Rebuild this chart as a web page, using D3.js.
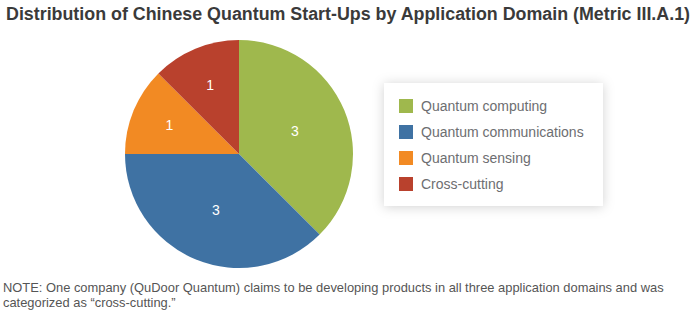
<!DOCTYPE html>
<html>
<head>
<meta charset="utf-8">
<script src="https://cdn.jsdelivr.net/npm/d3@7"></script>
<style>
  body { margin: 0; background: #fff; }
  text { font-family: "Liberation Sans", Arial, sans-serif; }
</style>
</head>
<body>
<div id="chart"></div>
<script>
// Chart data
const categories = ["Quantum computing", "Quantum communications", "Quantum sensing", "Cross-cutting"];
const counts = [3, 3, 1, 1];
const colors = ["#9fb84d", "#3f72a3", "#f28a23", "#b9412d"];
const title = "Distribution of Chinese Quantum Start-Ups by Application Domain (Metric III.A.1)";
const noteLines = [
    "NOTE: One company (QuDoor Quantum) claims to be developing products in all three application domains and was",
    "categorized as \u201ccross-cutting.\u201d"
];

const width = 693, height = 315;
const cx = 239, cy = 154, radius = 114;

let svg = d3.select("#chart").append("svg")
    .attr("width", width)
    .attr("height", height);

// Soft shadow used behind the legend box
let defs = svg.append("defs");
let shadow = defs.append("filter")
    .attr("id", "shadow")
    .attr("x", "-20%").attr("y", "-30%")
    .attr("width", "140%").attr("height", "160%");
shadow.append("feDropShadow")
    .attr("dx", 0).attr("dy", 1)
    .attr("stdDeviation", 6)
    .attr("flood-color", "#000")
    .attr("flood-opacity", 0.18);

// Title
svg.append("text")
    .attr("x", 6)
    .attr("y", 20)
    .attr("textLength", 684)
    .attr("lengthAdjust", "spacingAndGlyphs")
    .style("font-size", "17.5px")
    .style("font-weight", "bold")
    .style("fill", "#3a3a3a")
    .text(title);

// Pie
let pie = d3.pie().sort(null).value(d => d);
let arc = d3.arc().innerRadius(0).outerRadius(radius);
let slices = pie(counts);

let g = svg.append("g").attr("transform", `translate(${cx},${cy})`);
g.selectAll("path")
    .data(slices)
    .enter().append("path")
    .attr("d", arc)
    .attr("fill", (d, i) => colors[i]);

// Big slices have their label closer to the middle than the small ones
let labelArc = d => {
    let r = d.data >= 3 ? radius * 1.06 : radius * 1.32;
    return d3.arc().innerRadius(0).outerRadius(r).centroid(d);
};
g.selectAll("text.val")
    .data(slices)
    .enter().append("text")
    .attr("class", "val")
    .attr("transform", d => `translate(${labelArc(d)})`)
    .attr("text-anchor", "middle")
    .attr("dy", "0.36em")
    .style("font-size", "14px")
    .style("fill", "#fff")
    .text(d => d.data);

// Legend
let legend = svg.append("g").attr("transform", "translate(384,83)");
legend.append("rect")
    .attr("width", 219)
    .attr("height", 123)
    .attr("fill", "#fff")
    .attr("filter", "url(#shadow)");

let row = d3.scaleBand().domain(categories).range([10, 114]);
let items = legend.selectAll("g.item")
    .data(categories)
    .enter().append("g")
    .attr("class", "item")
    .attr("transform", d => `translate(0,${row(d) + row.bandwidth() / 2})`);
items.append("rect")
    .attr("x", 15).attr("y", -7)
    .attr("width", 14).attr("height", 14)
    .attr("fill", (d, i) => colors[i]);
items.append("text")
    .attr("x", 37)
    .attr("dy", "0.35em")
    .style("font-size", "14px")
    .style("fill", "#6d6e71")
    .text(d => d);

// Note under the chart
svg.selectAll("text.note")
    .data(noteLines)
    .enter().append("text")
    .attr("class", "note")
    .attr("x", 3)
    .attr("y", (d, i) => 292 + i * 15)
    .style("font-size", "12.9px")
    .style("fill", "#555")
    .text(d => d);
</script>
</body>
</html>
